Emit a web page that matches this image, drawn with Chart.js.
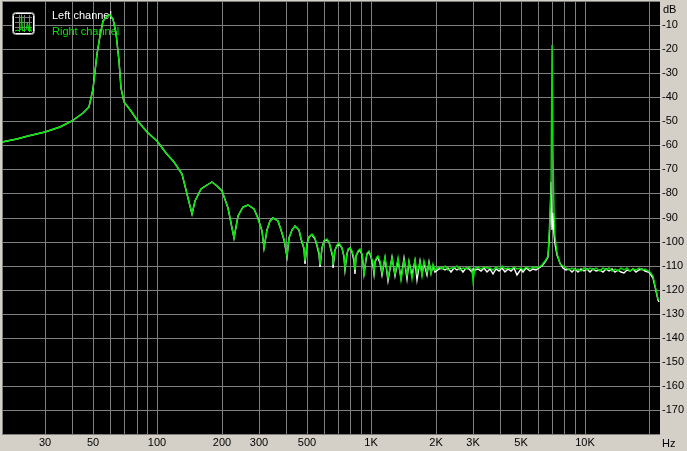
<!DOCTYPE html>
<html>
<head>
<meta charset="utf-8">
<title>Spectrum</title>
<script src="https://cdn.jsdelivr.net/npm/chart.js@4.4.1/dist/chart.umd.min.js"></script>
<style>
  html, body { margin: 0; padding: 0; background: #d4d0c8; overflow: hidden; }
  canvas { display: block; }
</style>
</head>
<body>
<canvas id="spectrum" width="687" height="451"></canvas>
<script>
// frequency points (Hz)
const freqHz = [
  18.8, 22, 25, 30, 35, 40, 45, 48, 50, 52, 54, 56, 58, 60, 62, 64, 66, 68, 70, 75, 80, 90, 100,
  110, 120, 130, 135, 140, 145, 150, 160, 170, 180, 190, 200, 215, 229,
  239, 252, 267, 283, 297, 308, 316,
  326, 336, 349, 365, 380, 393, 403,
  413, 425, 441, 458, 472, 483, 491,
  501, 513, 528, 545, 560, 570, 577,
  588, 603, 621, 638, 652, 660, 666,
  678, 693, 711, 730, 745, 755,
  767, 780, 797, 815, 832, 841,
  853, 868, 888, 905, 920, 930,
  943, 960, 981, 1000, 1015, 1030,
  1045, 1062, 1081, 1100, 1118,
  1160, 1205, 1248, 1292, 1335, 1380, 1423, 1467, 1510, 1555,
  1598, 1642, 1685, 1730, 1773, 1817, 1860, 1905, 1948, 1992,
  2070, 2140, 2210, 2280, 2360, 2440, 2520, 2600, 2690, 2780, 2870, 2960,
  3006, 3060, 3160, 3260, 3370, 3480, 3600, 3720, 3840, 3970, 4100, 4240,
  4380, 4520, 4670, 4830, 4990, 5150, 5320, 5500, 5680, 5870, 6060, 6280,
  6507, 6700, 6816, 6889, 6941, 7038, 7091, 7168, 7269, 7427, 7647, 7897,
  8150, 8420, 8700, 8990, 9290, 9600, 9920, 10250, 10590, 10940, 11300,
  11680, 12070, 12470, 12880, 13310, 13750, 14210, 14680, 15170, 15670, 16190,
  16730, 17280, 17860, 18450, 19060, 19700, 20000, 20870, 21480, 22020, 22050
];

const rightDb = [
  -58.7, -57.5, -56.3, -54.6, -52.5, -49.8, -46.5, -44.2, -36.7, -22, -14.4, -8.5, -6.3, -6.0, -7.4, -13.5, -25, -36, -42, -45.8, -49.6, -54.3, -58.3,
  -63, -66.8, -72, -77, -83.5, -88.7, -83, -78, -76.3, -75.2, -77, -78.8, -86, -98.5,
  -89.5, -85.8, -84.6, -86.5, -90.8, -95.5, -102.6,
  -95, -91.5, -90.1, -91.5, -95, -99, -106,
  -98.5, -95, -93.6, -95, -98.5, -102.5, -108.2,
  -101, -98, -97, -98.5, -101.5, -104.5, -109.6,
  -102.5, -99.8, -98.9, -100, -103, -106, -109.6,
  -103.5, -101.5, -100.8, -102.5, -106, -111,
  -105, -103.2, -102.6, -104, -107, -111.7,
  -106, -104, -103.3, -105, -108.5, -114.4,
  -107, -104.6, -104, -106, -109, -112.5,
  -108, -106.5, -106, -108, -113,
  -106.5, -115, -107, -113.5, -106.8, -116, -107.5, -114, -108, -115.5,
  -107.5, -113, -108.5, -114.5, -108, -112.5, -109, -113.5, -109.5, -112,
  -110.5, -111.5, -110.2, -111.8, -110.8, -111.2, -110, -112, -110.8, -111.5, -110.6, -111.8,
  -116.5, -111, -110.5, -111.6, -110.4, -111.2, -110.8, -111.8, -110.6, -111.4, -110.2, -111.6,
  -110.8, -111.5, -110.5, -111.6, -110.8, -111.9, -110.6, -111.3, -110.5, -111.2, -110.4, -109.6,
  -108, -106, -97.8, -89, -80, -18.3, -62.9, -87.5, -97.8, -104.7, -109.4, -110.3,
  -111.2, -111.8, -110.9, -112, -111.3, -112.2, -111, -111.8, -110.8, -112, -111.2,
  -112.3, -111, -111.9, -110.8, -112.1, -111.3, -112.4, -111, -111.9, -110.9, -112.2,
  -111.4, -112, -111.1, -111.8, -111.5, -112.2, -112.4, -114.4, -120, -123.9, -124.5
];

const leftDb = [
  -58.7, -57.5, -56.3, -54.6, -52.5, -49.8, -46.5, -44.2, -36.7, -22, -14.4, -8.5, -6.3, -6.0, -7.4, -13.5, -25, -36, -42, -45.8, -49.6, -54.3, -58.3,
  -63, -66.8, -72, -77, -83.5, -88.7, -83, -78, -76.3, -75.2, -77, -78.8, -86, -98.5,
  -89.5, -85.8, -84.6, -86.5, -90.4, -95.5, -102.6,
  -95, -91.5, -90.1, -91.5, -95, -99.5, -106.3,
  -98.5, -95, -93.6, -95.3, -98.8, -103, -109.2,
  -101, -98, -97.2, -98.8, -101.8, -105, -110.5,
  -102.5, -99.8, -99.2, -100.3, -103.5, -107, -111.2,
  -103.5, -101.7, -101, -102.8, -106.5, -112,
  -105, -103.5, -102.8, -104.5, -108, -113.3,
  -106, -104.3, -103.6, -105.5, -109, -113.5,
  -107.5, -105, -104.5, -106.5, -110, -113.5,
  -108.5, -107, -106.8, -109, -114,
  -107, -116.5, -106.5, -114.5, -107.5, -115, -107, -115.5, -108.5, -114,
  -108, -116, -108, -113.5, -109, -114, -108.5, -113, -110, -112.5,
  -111.5, -110.8, -112, -111, -112.5, -111, -111.8, -111.2, -112.6, -111, -111.6, -112.8,
  -111.5, -112, -111.4, -112.4, -111, -112.6, -111.5, -113.5, -111.6, -112.2, -111, -112.6,
  -111.5, -112.4, -111.2, -114, -111.6, -112.5, -111, -112.2, -111.4, -111.8, -111, -110,
  -108.5, -106.5, -100, -92, -75.3, -95, -88, -97, -101, -105.5, -109, -111,
  -112, -111.4, -112.5, -111.5, -112.8, -111.6, -112.3, -111.5, -112.6, -111.3, -112.4,
  -111.8, -112.6, -111.5, -112.2, -111.4, -112.8, -111.8, -112.5, -113, -111.8, -112.4,
  -111.6, -112.8, -112, -111.5, -112.4, -112.6, -112.8, -115, -120.5, -124.5, -125
];

// vertical grid lines and the labels under them
const gridHz = [18.8, 30, 40, 50, 60, 70, 80, 90, 100, 200, 300, 400, 500, 600, 700, 800, 900,
  1000, 2000, 3000, 4000, 5000, 6000, 7000, 8000, 9000, 10000, 20000];
const labelHz = [30, 50, 100, 200, 300, 500, 1000, 2000, 3000, 5000, 10000];
const labelText = ['30', '50', '100', '200', '300', '500', '1K', '2K', '3K', '5K', '10K'];

const GREEN = '#00e600';
const FONT = '11px "Liberation Sans", Arial, sans-serif';

const toPoints = vals => freqHz.map((f, i) => ({ x: f, y: vals[i] }));

function drawIcon(ctx, x, y) {
  ctx.save();
  ctx.beginPath();
  ctx.roundRect(x + 0.5, y + 0.5, 22, 22, 3);
  ctx.fillStyle = '#000';
  ctx.fill();
  ctx.lineWidth = 1;
  ctx.strokeStyle = '#a0a0a0';
  ctx.stroke();
  ctx.beginPath();
  ctx.roundRect(x + 1.5, y + 1.5, 20, 20, 2);
  ctx.strokeStyle = '#ffffff';
  ctx.stroke();
  ctx.strokeStyle = '#808080';
  ctx.beginPath();
  [7.5, 12.5, 17.5].forEach(d => {
    ctx.moveTo(x + d, y + 3); ctx.lineTo(x + d, y + 20);
    ctx.moveTo(x + 3, y + d - 2); ctx.lineTo(x + 20, y + d - 2);
  });
  ctx.stroke();
  ctx.strokeStyle = GREEN;
  ctx.beginPath();
  ctx.moveTo(x + 3, y + 19);
  ctx.lineTo(x + 6, y + 18); ctx.lineTo(x + 7, y + 19); ctx.lineTo(x + 9, y + 17);
  ctx.lineTo(x + 9.5, y + 2.5); ctx.lineTo(x + 10.5, y + 19); ctx.lineTo(x + 14, y + 18);
  ctx.lineTo(x + 15.5, y + 10); ctx.lineTo(x + 16.5, y + 19); ctx.lineTo(x + 17.5, y + 12);
  ctx.lineTo(x + 18.5, y + 19); ctx.lineTo(x + 20, y + 19);
  ctx.stroke();
  ctx.restore();
}

const decor = {
  id: 'decor',
  beforeDraw(chart) {
    const { ctx, chartArea: a } = chart;
    ctx.save();
    ctx.fillStyle = '#000';
    ctx.fillRect(a.left, a.top, a.right - a.left, a.bottom - a.top);
    ctx.restore();
  },
  beforeDatasetsDraw(chart) {
    const ctx = chart.ctx;
    drawIcon(ctx, 12, 12);
    ctx.save();
    ctx.font = FONT;
    ctx.textBaseline = 'alphabetic';
    ctx.fillStyle = '#ffffff';
    ctx.fillText(chart.data.datasets[0].label, 52, 18.5);
    ctx.fillStyle = GREEN;
    ctx.fillText(chart.data.datasets[1].label, 52, 34.5);
    ctx.restore();
  },
  afterDraw(chart) {
    const { ctx, chartArea: a } = chart;
    ctx.save();
    ctx.font = FONT;
    ctx.fillStyle = '#000';
    ctx.textBaseline = 'alphabetic';
    ctx.fillText('dB', a.right + 3, 12.5);
    ctx.fillText('Hz', a.right + 2, 446.5);
    ctx.restore();
  }
};

new Chart(document.getElementById('spectrum'), {
  type: 'line',
  data: {
    datasets: [
      { label: 'Left channel', data: toPoints(leftDb), borderColor: '#ffffff', borderWidth: 1.4,
        pointRadius: 0, tension: 0, order: 2 },
      { label: 'Right channel', data: toPoints(rightDb), borderColor: GREEN, borderWidth: 1.4,
        pointRadius: 0, tension: 0, order: 1 }
    ]
  },
  options: {
    responsive: false,
    animation: false,
    devicePixelRatio: 1,
    layout: { padding: { left: 2, top: 1, right: 0, bottom: 0 } },
    plugins: { legend: { display: false }, tooltip: { enabled: false } },
    scales: {
      x: {
        type: 'logarithmic',
        min: 18.8,
        max: 22400,
        alignToPixels: true,
        afterBuildTicks: s => { s.ticks = gridHz.map(v => ({ value: v })); },
        afterFit: s => { s.height = 17; s.paddingLeft = 0; s.paddingRight = 0; },
        grid: { color: '#808080', lineWidth: 1, drawTicks: false },
        border: { display: false },
        ticks: {
          color: '#000', font: { family: '"Liberation Sans", Arial', size: 11 },
          padding: 2, autoSkip: false, maxRotation: 0, minRotation: 0,
          callback: v => { const i = labelHz.indexOf(v); return i >= 0 ? labelText[i] : ''; }
        }
      },
      y: {
        position: 'right',
        min: -180,
        max: 0,
        alignToPixels: true,
        afterFit: s => { s.width = 27; s.paddingTop = 0; s.paddingBottom = 0; },
        grid: { color: '#808080', lineWidth: 1, drawTicks: false },
        border: { display: false },
        ticks: {
          stepSize: 10, color: '#000', font: { family: '"Liberation Sans", Arial', size: 11 },
          padding: 2, autoSkip: false,
          callback: v => (v === 0 || v === -180) ? '' : String(v)
        }
      }
    }
  },
  plugins: [decor]
});
</script>
</body>
</html>
